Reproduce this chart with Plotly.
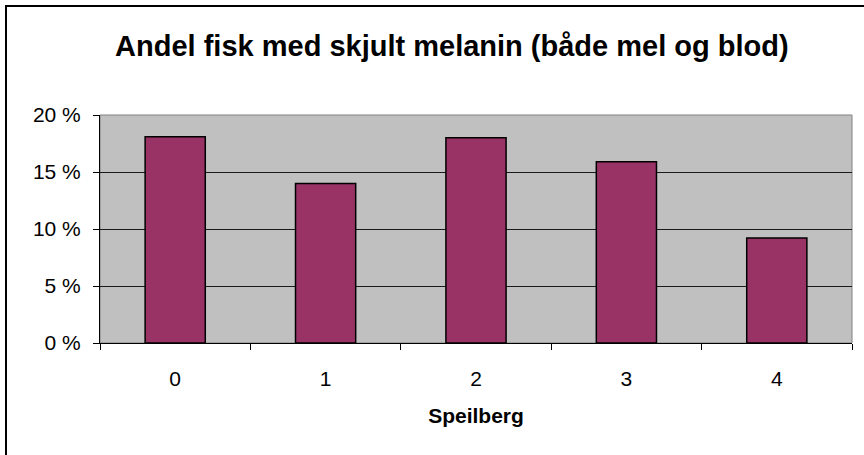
import plotly.graph_objects as go

categories = ["0", "1", "2", "3", "4"]
values = [18.1, 14.0, 18.0, 15.9, 9.2]
y_ticks = [0, 5, 10, 15, 20]
y_tick_labels = ["0 %", "5 %", "10 %", "15 %", "20 %"]

W, H = 864, 455
L, R, T, B = 100, 12, 115, 112
pw, ph = W - L - R, H - T - B

def px_x(x):
    return (x - L) / pw

def px_y(y):
    return (H - B - y) / ph

fig = go.Figure()
fig.add_trace(go.Bar(
    x=categories, y=values, width=0.4,
    marker=dict(color="#993366", line=dict(color="#000000", width=1.5)),
))

fig.update_layout(
    width=W, height=H,
    margin=dict(l=L, r=R, t=T, b=B),
    paper_bgcolor="white", plot_bgcolor="#C0C0C0",
    font=dict(family="Liberation Sans, Arial, sans-serif", color="black", size=21),
    showlegend=False,
    title=dict(text="<b>Andel fisk med skjult melanin (både mel og blod)</b>",
               x=0.523, xanchor="center", y=1 - 46 / H, yanchor="middle",
               font=dict(size=29)),
    bargap=0.6,
)
fig.update_xaxes(
    type="category", showgrid=False, showline=True, linecolor="black", linewidth=1,
    ticks="outside", tickson="boundaries", ticklen=6, tickcolor="black",
    ticklabelstandoff=17,
    title=dict(text="<b>Speilberg</b>", standoff=19, font=dict(size=21)),
)
fig.update_yaxes(
    range=[0, 20], tickvals=y_ticks, ticktext=y_tick_labels,
    showgrid=True, gridcolor="#1a1a1a", gridwidth=1,
    showline=True, linecolor="black", linewidth=1,
    ticks="outside", ticklen=6, tickcolor="black", ticklabelstandoff=8,
    zeroline=False,
)
# plot-area border (grey on top/right)
fig.add_shape(type="rect", xref="paper", yref="paper", x0=0, x1=1, y0=0, y1=1,
              line=dict(color="#808080", width=1), layer="below")
# outer chart border
fig.add_shape(type="rect", xref="paper", yref="paper",
              x0=px_x(6), x1=px_x(875), y0=px_y(470), y1=px_y(6),
              line=dict(color="black", width=2), layer="above")

fig.write_html("out.html", config={"displayModeBar": False},
               post_script="document.body.style.margin='0';")
